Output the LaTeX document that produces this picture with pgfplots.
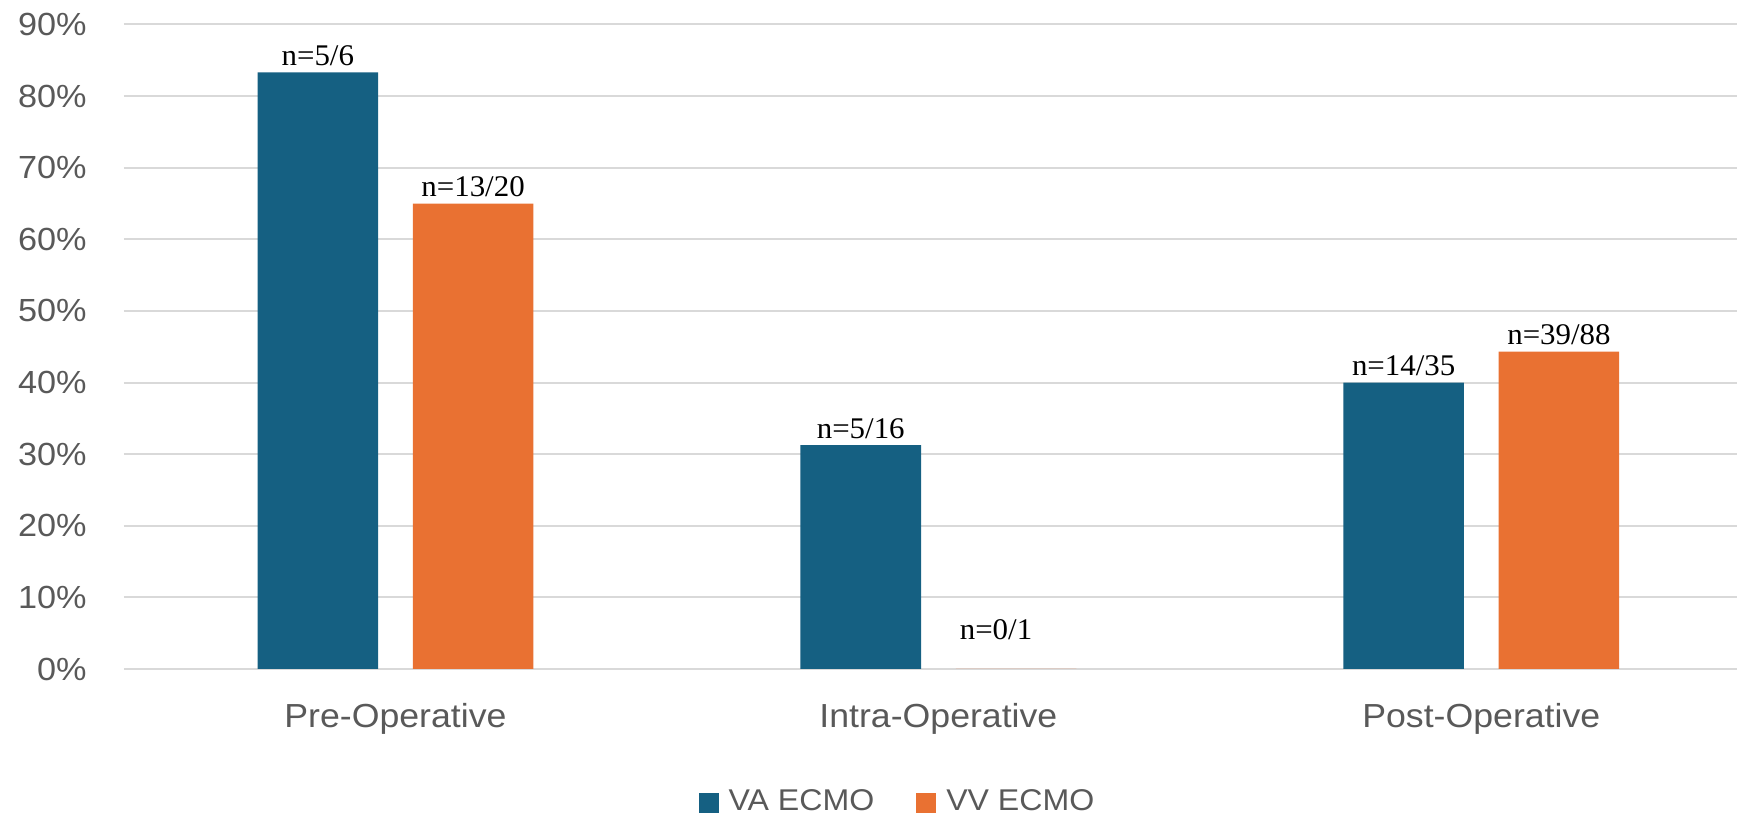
\documentclass[border=0pt]{standalone}
\usepackage{pgfplots}
\pgfplotsset{compat=1.18}
\usepackage{pgfplotstable}
\usepackage{fontspec}
\setmainfont[FakeStretch=1.07]{Liberation Sans}
\newfontfamily\countfont[FakeStretch=1.03]{Liberation Serif}

\definecolor{vablue}{HTML}{156082}
\definecolor{vvorange}{HTML}{E97132}
\definecolor{gridgray}{HTML}{D9D9D9}
\definecolor{textgray}{HTML}{595959}

% share of patients per phase; label = events / total
\pgfplotstableread{
x   y      label
0   83.33  {n=5/6}
1   31.25  {n=5/16}
2   40.00  {n=14/35}
}\vadata
\pgfplotstableread{
x   y      label
0   65.00  {n=13/20}
1   0.00   {n=0/1}
2   44.32  {n=39/88}
}\vvdata

\begin{document}
\begin{tikzpicture}
\begin{axis}[
  scale only axis,
  width=483.9pt, height=193.35pt,
  xmin=-0.5, xmax=2.471,
  ymin=0, ymax=90,
  clip=false,
  axis line style={draw=none},
  major tick length=0pt,
  /pgf/number format/assume math mode=true,
  ytick={0,10,...,90},
  yticklabel={\pgfmathprintnumber{\tick}\%},
  yticklabel style={font=\fontsize{9.6}{12}\selectfont, text=textgray, inner sep=0pt, anchor=east, xshift=-11pt},
  xtick={0,1,2},
  xticklabels={Pre-Operative,Intra-Operative,Post-Operative},
  xticklabel style={font=\fontsize{10}{12}\selectfont, text=textgray, inner sep=0pt, anchor=base, yshift=-17.6pt},
  ymajorgrids,
  grid style={gridgray, line width=0.6pt},
  ybar,
  bar width=0.222,
  point meta=explicit symbolic,
  nodes near coords,
  every node near coord/.append style={font=\countfont\fontsize{9}{10}\selectfont, text=black, inner sep=0pt, anchor=south, yshift=1.8pt},
  legend style={at={(0.482,0)}, anchor=center, yshift=-40.2pt, draw=none, fill=none,
    legend columns=2, font=\fontsize{9}{10}\selectfont, text=textgray,
    nodes={inner xsep=3pt, inner ysep=0pt},
    /tikz/every even column/.append style={column sep=9.6pt}},
  legend cell align=left,
]
\addplot[ybar, bar shift=-0.143, fill=vablue, draw=none,
  legend image code/.code={\fill[vablue] (0pt,-3pt) rectangle (6pt,3pt);}]
  table[x=x, y=y, meta=label] {\vadata};
\addlegendentry{VA ECMO}
\addplot[ybar, bar shift=0.143, fill=vvorange, draw=none,
  coordinate style/.condition={y==0}{yshift=6.8pt, xshift=-6pt},
  legend image code/.code={\fill[vvorange] (0pt,-3pt) rectangle (6pt,3pt);}]
  table[x=x, y=y, meta=label] {\vvdata};
\addlegendentry{VV ECMO}
\coordinate (sw) at (rel axis cs:0,0);
\coordinate (ne) at (rel axis cs:1,1);
\end{axis}
\pgfresetboundingbox
\path[use as bounding box] ([xshift=-37.2pt, yshift=-44.1pt]sw) rectangle ([yshift=7.35pt]ne);
\end{tikzpicture}
\end{document}
